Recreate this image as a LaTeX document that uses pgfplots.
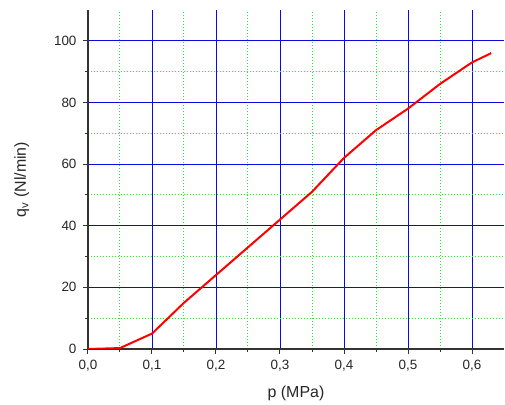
\documentclass[border=0pt]{standalone}
\usepackage{fontspec}
\setmainfont{Liberation Sans}
\usepackage{pgfplots}
\pgfplotsset{compat=1.18}
\definecolor{mgreen}{RGB}{40,235,40}
\definecolor{mblue}{RGB}{10,10,220}
\begin{document}
\begin{tikzpicture}
\useasboundingbox (-88bp,-56bp) rectangle (417bp,349bp);
\begin{axis}[
  at={(0,0)}, anchor=south west,
  scale only axis,
  width=416bp, height=339bp,
  xmin=0, xmax=0.65, ymin=0, ymax=110,
  xtick={0,0.1,...,0.61}, ytick={0,20,...,100},
  minor x tick num=1, minor y tick num=1,
  axis x line*=bottom, axis y line*=left,
  axis line style={-, black!80, line width=1.3bp},
  tick style={black!80, line width=1bp},
  tick align=outside,
  major tick length=5bp, minor tick length=3bp,
  grid=both,
  major grid style={mblue, line width=0.9bp},
  minor grid style={mgreen, dash pattern=on 1bp off 2bp, line width=1bp},
  /pgf/number format/assume math mode=true,
  x tick label style={yshift=-3bp, /pgf/number format/.cd, use comma, fixed, fixed zerofill, precision=1},
  y tick label style={xshift=-3bp},
  ticklabel style={font=\fontsize{13.5}{15}\selectfont, text=black!85},
  label style={font=\fontsize{16}{18}\selectfont, text=black!85},
  xlabel={p (MPa)},
  ylabel={q\textsubscript{v} (Nl/min)},
  xlabel style={yshift=-7bp},
  ylabel style={yshift=18bp},
]
\addplot[red, line width=2bp] coordinates {
(0,0) (0.05,0.3) (0.1,5) (0.15,15) (0.2,24) (0.25,33) (0.3,42) (0.35,51)
(0.4,62) (0.45,71) (0.5,78) (0.55,86) (0.6,93) (0.63,96)
};
\end{axis}
\end{tikzpicture}
\end{document}
